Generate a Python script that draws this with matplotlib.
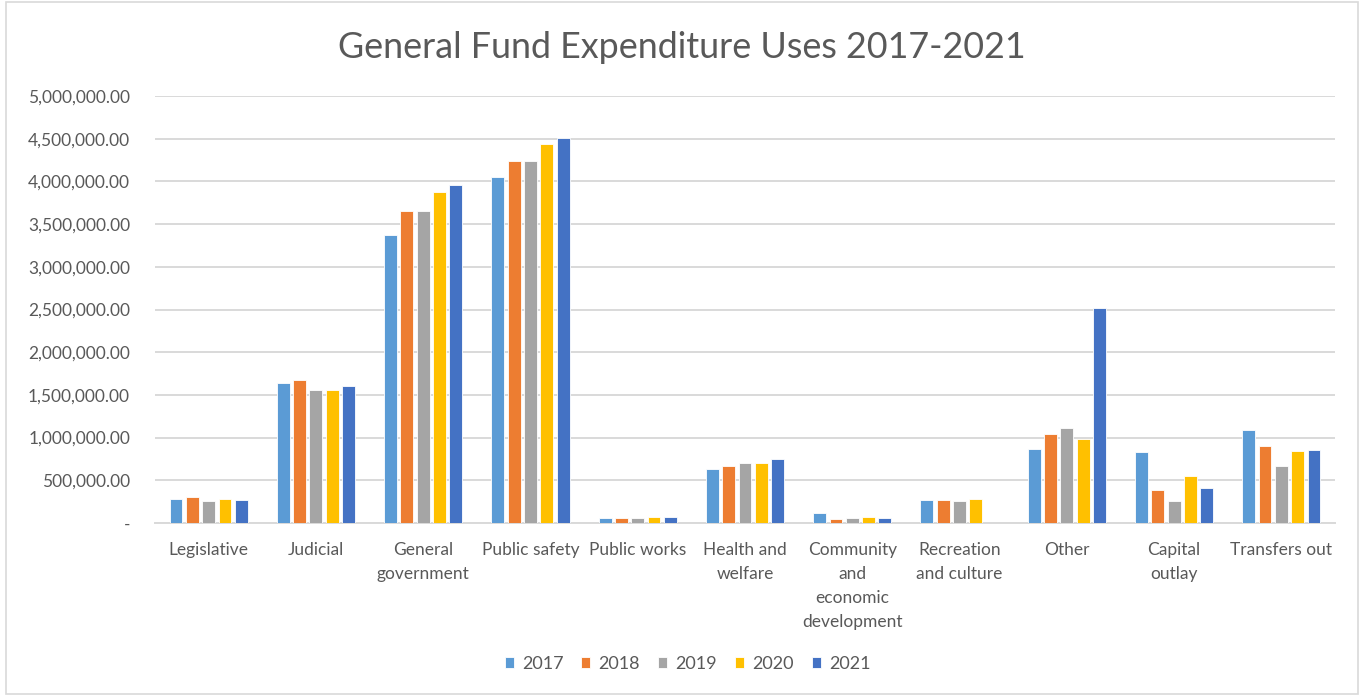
import matplotlib
matplotlib.use('Agg')
import matplotlib.pyplot as plt
import numpy as np
from matplotlib.patches import Rectangle
from matplotlib.ticker import FuncFormatter

plt.rcParams['font.family'] = ['Lato', 'DejaVu Sans']

categories = ['Legislative', 'Judicial', 'General\ngovernment', 'Public safety',
              'Public works', 'Health and\nwelfare', 'Community\nand\neconomic\ndevelopment',
              'Recreation\nand culture', 'Other', 'Capital\noutlay', 'Transfers out']
years = ['2017', '2018', '2019', '2020', '2021']

# Expenditure by category, one list per year
exp_2017 = [277000, 1636000, 3376000, 4055000, 55000, 636000, 114000, 269000, 866000, 828000, 1089000]
exp_2018 = [304000, 1674000, 3649000, 4242000, 55000, 664000, 43000, 269000, 1039000, 383000, 906000]
exp_2019 = [254000, 1554000, 3649000, 4242000, 55000, 699000, 55000, 254000, 1117000, 262000, 672000]
exp_2020 = [277000, 1554000, 3871000, 4441000, 67000, 699000, 67000, 277000, 980000, 547000, 843000]
exp_2021 = [266000, 1600000, 3957000, 4505000, 67000, 746000, 55000, 0, 2520000, 410000, 855000]
series = [exp_2017, exp_2018, exp_2019, exp_2020, exp_2021]

colors = ['#5B9BD5', '#ED7D31', '#A5A5A5', '#FFC000', '#4472C4']
text_color = '#595959'

fig = plt.figure(figsize=(13.64, 6.96), dpi=100)
ax = fig.add_axes([155 / 1364, 173 / 696, 1180 / 1364, 427 / 696])

# light frame round the whole chart
fig.patches.append(Rectangle((6 / 1364, 2 / 696), 1352 / 1364, 692 / 696,
                             transform=fig.transFigure, fill=False,
                             edgecolor='#D9D9D9', linewidth=1.2))

x = np.arange(len(categories))
step = 0.152
width = 0.12
handles = []
for i, (vals, c) in enumerate(zip(series, colors)):
    b = ax.bar(x + (i - 2) * step, vals, width, color=c, edgecolor='white',
               linewidth=0.6, zorder=3)
    handles.append(b)

ax.set_xlim(-0.5, len(categories) - 0.5)
ax.set_ylim(0, 5000000)
ax.set_yticks(np.arange(0, 5000001, 500000))
ax.yaxis.set_major_formatter(FuncFormatter(lambda v, p: '-' if v == 0 else f'{v:,.2f}'))
ax.grid(axis='y', color='#D9D9D9', linewidth=1.4, zorder=0)
for s in ['top', 'right', 'left']:
    ax.spines[s].set_visible(False)
ax.spines['bottom'].set_color('#D9D9D9')
ax.spines['bottom'].set_linewidth(1.4)
ax.tick_params(axis='both', length=0, colors=text_color, labelsize=12.5)
ax.tick_params(axis='y', pad=18)
ax.tick_params(axis='x', pad=14)
ax.set_xticks(x)
ax.set_xticklabels(categories, linespacing=1.6)

fig.text(0.5, 0.932, 'General Fund Expenditure Uses 2017-2021', ha='center', va='center',
         fontsize=25.8, color=text_color)

fig.legend(handles, years, loc='center', bbox_to_anchor=(0.504, 0.046), ncol=5,
           frameon=False, fontsize=13, handlelength=0.5, handleheight=0.5,
           handletextpad=0.45, columnspacing=1.0, labelcolor=text_color)

fig.savefig('out.png', dpi=100)
